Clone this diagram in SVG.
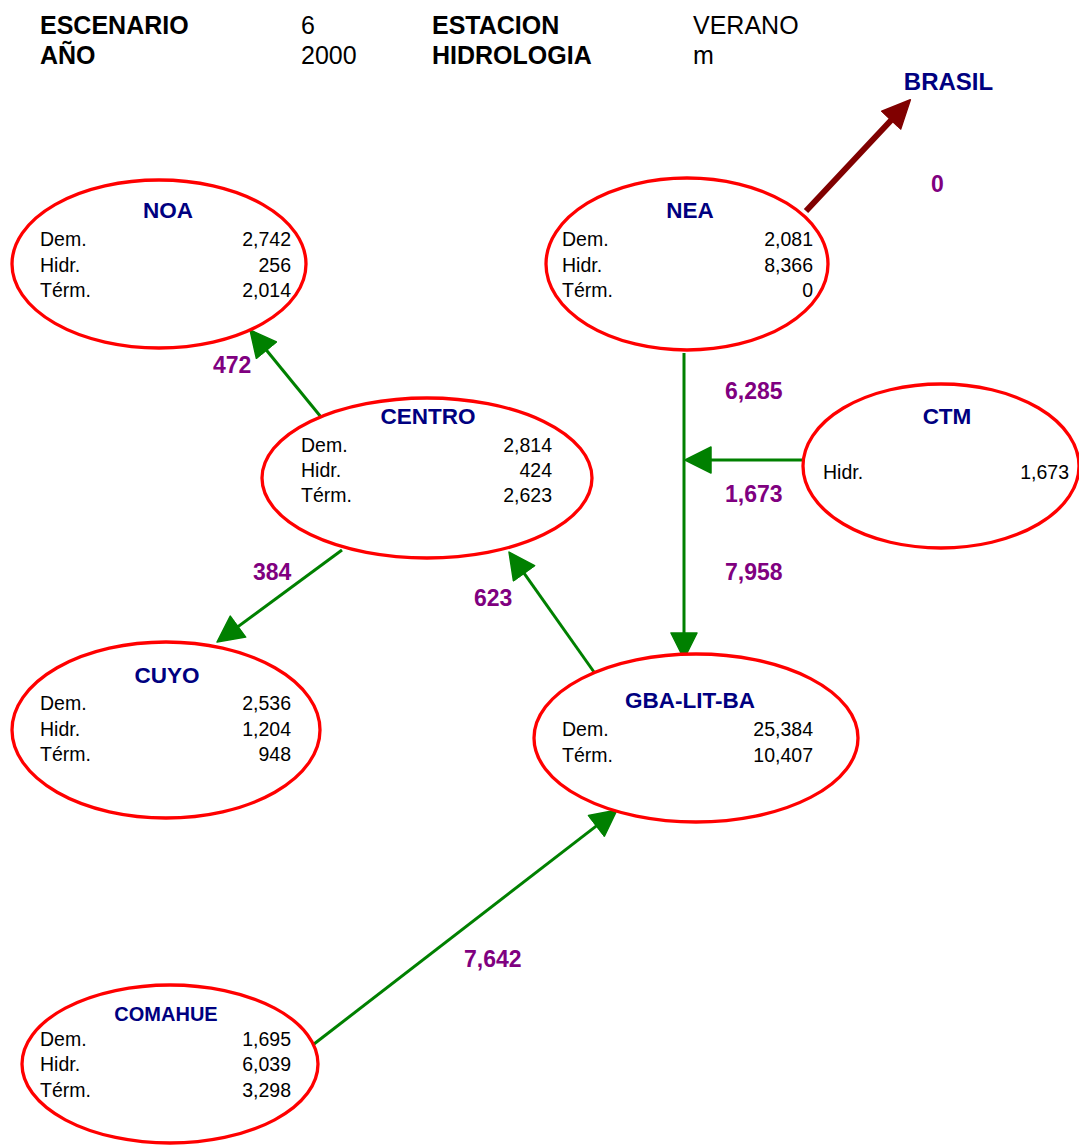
<svg xmlns="http://www.w3.org/2000/svg" width="1079" height="1145" viewBox="0 0 1079 1145">
<style>
.hd{font-family:"Liberation Sans",Arial,sans-serif;font-size:25px;font-weight:bold;fill:#000}
.hv{font-family:"Liberation Sans",Arial,sans-serif;font-size:25px;fill:#000}
.el{fill:#fff;stroke:#ff0000;stroke-width:3.3}
.tt{font-family:"Liberation Sans",Arial,sans-serif;font-size:22.5px;font-weight:bold;fill:#000080;text-anchor:middle}
.tx{font-family:"Liberation Sans",Arial,sans-serif;font-size:19.5px;fill:#000}
.vr{font-family:"Liberation Sans",Arial,sans-serif;font-size:19.5px;fill:#000;text-anchor:end}
.fl{font-family:"Liberation Sans",Arial,sans-serif;font-size:23px;font-weight:bold;fill:#800080}
.g{stroke:#008000;stroke-width:3;fill:none;marker-end:url(#ag)}
.r{stroke:#800000;stroke-width:6;fill:none;marker-end:url(#ar)}
</style>
<defs>
<marker id="ag" markerUnits="userSpaceOnUse" viewBox="0 0 28 28" markerWidth="28" markerHeight="28" refX="17" refY="14" orient="auto">
<path d="M1,1 L27,14 L1,27 z" fill="#008000" stroke="#008000" stroke-width="1.5" stroke-linejoin="round"/>
</marker>
<marker id="ar" markerUnits="userSpaceOnUse" viewBox="0 0 30 28" markerWidth="30" markerHeight="28" refX="20" refY="14" orient="auto">
<path d="M1,1 L29,14 L1,27 z" fill="#800000" stroke="#800000" stroke-width="1.5" stroke-linejoin="round"/>
</marker>
</defs>
<rect width="1079" height="1145" fill="#fff"/>
<g id="header">
<text class="hd" x="40" y="34">ESCENARIO</text>
<text class="hv" x="301" y="34">6</text>
<text class="hd" x="432" y="34">ESTACION</text>
<text class="hv" x="693" y="34">VERANO</text>
<text class="hd" x="40" y="64">AÑO</text>
<text class="hv" x="301" y="64">2000</text>
<text class="hd" x="432" y="64">HIDROLOGIA</text>
<text class="hv" x="693" y="64">m</text>
</g>
<g id="connectors">
<line class="r" x1="806" y1="211" x2="904.2" y2="106.3"/>
<line class="g" x1="321" y1="417" x2="256.3" y2="337.7"/>
<line class="g" x1="684" y1="353" x2="684" y2="649"/>
<line class="g" x1="803" y1="460" x2="695" y2="460"/>
<line class="g" x1="342" y1="550" x2="225.1" y2="636.1"/>
<line class="g" x1="594" y1="672" x2="514.8" y2="560.2"/>
<line class="g" x1="314" y1="1044" x2="609.1" y2="816.1"/>
<text class="fl" x="931" y="192">0</text>
<text class="fl" x="213" y="373">472</text>
<text class="fl" x="725" y="399">6,285</text>
<text class="fl" x="725" y="502">1,673</text>
<text class="fl" x="725" y="580">7,958</text>
<text class="fl" x="253" y="580">384</text>
<text class="fl" x="474" y="606">623</text>
<text class="fl" x="464" y="967">7,642</text>
</g>
<g id="brasil">
<text class="tt" x="948.5" y="90" style="font-size:24px">BRASIL</text>
</g>
<g id="noa">
<ellipse class="el" cx="159" cy="264" rx="147" ry="84"/>
<text class="tt" x="168" y="218">NOA</text>
<text class="tx" x="40" y="246">Dem.</text><text class="vr" x="291" y="246">2,742</text>
<text class="tx" x="40" y="271.5">Hidr.</text><text class="vr" x="291" y="271.5">256</text>
<text class="tx" x="40" y="297">Térm.</text><text class="vr" x="291" y="297">2,014</text>
</g>
<g id="nea">
<ellipse class="el" cx="687" cy="264" rx="141" ry="86"/>
<text class="tt" x="690" y="218">NEA</text>
<text class="tx" x="562" y="246">Dem.</text><text class="vr" x="813" y="246">2,081</text>
<text class="tx" x="562" y="271.5">Hidr.</text><text class="vr" x="813" y="271.5">8,366</text>
<text class="tx" x="562" y="297">Térm.</text><text class="vr" x="813" y="297">0</text>
</g>
<g id="centro">
<ellipse class="el" cx="427" cy="478" rx="165" ry="80"/>
<text class="tt" x="428" y="423.5">CENTRO</text>
<text class="tx" x="301" y="451.5">Dem.</text><text class="vr" x="552" y="451.5">2,814</text>
<text class="tx" x="301" y="477">Hidr.</text><text class="vr" x="552" y="477">424</text>
<text class="tx" x="301" y="502">Térm.</text><text class="vr" x="552" y="502">2,623</text>
</g>
<g id="ctm">
<ellipse class="el" cx="941" cy="466" rx="138" ry="82"/>
<text class="tt" x="947" y="424">CTM</text>
<text class="tx" x="823" y="478.5">Hidr.</text><text class="vr" x="1069" y="478.5">1,673</text>
</g>
<g id="cuyo">
<ellipse class="el" cx="166" cy="730" rx="154" ry="88"/>
<text class="tt" x="167" y="683">CUYO</text>
<text class="tx" x="40" y="710">Dem.</text><text class="vr" x="291" y="710">2,536</text>
<text class="tx" x="40" y="735.5">Hidr.</text><text class="vr" x="291" y="735.5">1,204</text>
<text class="tx" x="40" y="761">Térm.</text><text class="vr" x="291" y="761">948</text>
</g>
<g id="gba">
<ellipse class="el" cx="696" cy="738" rx="162" ry="84"/>
<text class="tt" x="690" y="708">GBA-LIT-BA</text>
<text class="tx" x="562" y="736">Dem.</text><text class="vr" x="813" y="736">25,384</text>
<text class="tx" x="562" y="761.5">Térm.</text><text class="vr" x="813" y="761.5">10,407</text>
</g>
<g id="comahue">
<ellipse class="el" cx="170" cy="1064" rx="148" ry="79"/>
<text class="tt" x="166" y="1020.5" style="font-size:20px">COMAHUE</text>
<text class="tx" x="40" y="1046">Dem.</text><text class="vr" x="291" y="1046">1,695</text>
<text class="tx" x="40" y="1071">Hidr.</text><text class="vr" x="291" y="1071">6,039</text>
<text class="tx" x="40" y="1096.5">Térm.</text><text class="vr" x="291" y="1096.5">3,298</text>
</g>
</svg>
